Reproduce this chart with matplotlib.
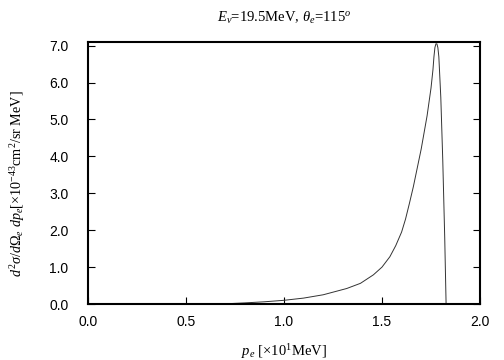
import numpy as np
import matplotlib
matplotlib.use("Agg")
import matplotlib.pyplot as plt

# Curve (p_e in units of 10 MeV)
p_e = [0.68, 0.80, 0.90, 1.00, 1.10, 1.20, 1.32, 1.39, 1.456, 1.50, 1.54,
       1.57, 1.60, 1.62, 1.64, 1.66, 1.70, 1.73, 1.75, 1.76, 1.765, 1.77,
       1.775, 1.78, 1.785, 1.79, 1.80, 1.81, 1.82, 1.827]
sigma = [0.0, 0.03, 0.06, 0.10, 0.16, 0.25, 0.42, 0.56, 0.79, 1.00, 1.28,
         1.58, 1.95, 2.30, 2.73, 3.18, 4.20, 5.10, 5.85, 6.35, 6.70, 6.95,
         7.05, 7.05, 6.95, 6.70, 5.60, 3.90, 1.80, 0.0]

xticks = [0.0, 0.5, 1.0, 1.5, 2.0]
yticks = [0.0, 1.0, 2.0, 3.0, 4.0, 5.0, 6.0, 7.0]

plt.rcParams["mathtext.fontset"] = "custom"
plt.rcParams["mathtext.rm"] = "Liberation Serif"
plt.rcParams["mathtext.it"] = "Liberation Serif:italic"
plt.rcParams["mathtext.bf"] = "Liberation Serif:bold"

fig = plt.figure(figsize=(5.04, 3.60), dpi=100)
ax = fig.add_axes([88 / 504, 56 / 360, 392 / 504, 262 / 360])

ax.plot(p_e, sigma, color="#333333", linewidth=0.7)

ax.set_xlim(0.0, 2.0)
ax.set_ylim(0.0, 7.1)
ax.set_xticks(xticks)
ax.set_yticks(yticks)
ax.set_xticklabels([f"{v:.1f}" for v in xticks], family="Liberation Sans", fontsize=10)
ax.set_yticklabels([f"{v:.1f}" for v in yticks], family="Liberation Sans", fontsize=10)
ax.tick_params(direction="in", length=5, width=0.8, top=False, right=True)
ax.tick_params(axis="x", pad=8)
ax.tick_params(axis="y", pad=14)
for s in ax.spines.values():
    s.set_linewidth(1.5)

serif = "Liberation Serif"
fig.text(284 / 504, 1 - 18 / 360, r"$E_{\nu}$=19.5MeV, $\theta_e$=115$^o$",
         ha="center", va="center", family=serif, fontsize=10.5)
fig.text(284 / 504, 1 - 352 / 360, r"$p_e$ [$\times$10$^1$MeV]",
         ha="center", va="center", family=serif, fontsize=10.5)
fig.text(18 / 504, 1 - 184 / 360,
         r"$d^2\sigma/d\Omega_e\ dp_e$[$\times$10$^{-43}$cm$^2$/sr MeV]",
         ha="center", va="center", rotation=90, family=serif, fontsize=10.2)

fig.savefig("out.png", dpi=100)
